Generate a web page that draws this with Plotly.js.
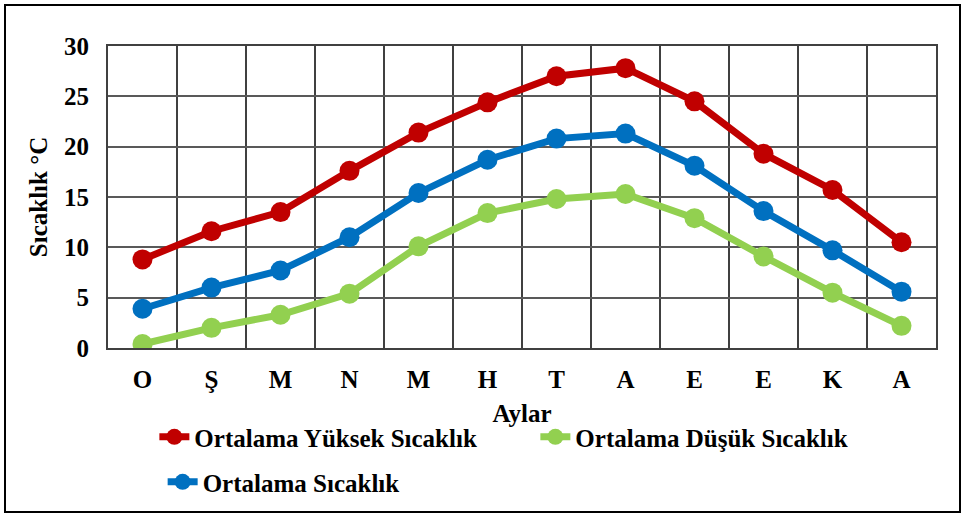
<!DOCTYPE html>
<html><head><meta charset="utf-8">
<script src="https://cdn.plot.ly/plotly-3.0.1.min.js"></script>
<style>
html,body{margin:0;padding:0;background:#fff;}
#chart{width:964px;height:515px;}
#frame{position:absolute;left:4px;top:4px;width:953px;height:505px;border:2px solid #000;pointer-events:none;}
</style></head>
<body>
<div id="chart"></div>
<div id="frame"></div>
<script>
const months = ["O","Ş","M","N","M","H","T","A","E","E","K","A"];
const xIdx = [0,1,2,3,4,5,6,7,8,9,10,11];
const highTemps = [8.8,11.6,13.5,17.6,21.4,24.4,27.0,27.8,24.5,19.3,15.7,10.5];
const lowTemps = [0.4,2.0,3.3,5.4,10.1,13.4,14.8,15.3,12.9,9.1,5.5,2.2];
const avgTemps = [3.9,6.0,7.7,11.0,15.4,18.7,20.8,21.3,18.1,13.6,9.7,5.6];
const seriesNames = ["Ortalama Yüksek Sıcaklık","Ortalama Düşük Sıcaklık","Ortalama Sıcaklık"];
const yTicks = [0,5,10,15,20,25,30];

const font = "Liberation Serif, Times New Roman, serif";
function tr(name, y, color, leg){
  return {x:xIdx, y:y, name:name, type:"scatter", mode:"lines+markers", legend:leg,
    line:{color:color,width:7}, marker:{color:color,size:20}};
}
const data = [
  tr(seriesNames[0], highTemps, "#C00000", "legend"),
  tr(seriesNames[1], lowTemps, "#92D050", "legend"),
  tr(seriesNames[2], avgTemps, "#0070C0", "legend2")
];
const legFont = {family:font, size:25, weight:"bold"};
const layout = {
  width:964, height:515,
  margin:{l:108, r:28, t:46, b:167, autoexpand:false},
  paper_bgcolor:"#fff", plot_bgcolor:"#fff",
  font:{family:font, color:"#000", size:25},
  showlegend:true,
  legend:{orientation:"h", x:0.056, xanchor:"left", y:-0.295, yanchor:"middle",
    font:legFont, entrywidth:336, entrywidthmode:"pixels",
    traceorder:"normal", itemsizing:"trace"},
  legend2:{orientation:"h", x:0.066, xanchor:"left", y:-0.444, yanchor:"middle",
    font:legFont, itemsizing:"trace"},
  xaxis:{range:[-0.5,11.5], tickvals:xIdx, ticktext:months, showgrid:false,
    zeroline:false, showline:true, mirror:true, linecolor:"#404040", linewidth:2,
    ticks:"", ticklabelstandoff:8, tickfont:{family:font,size:25,weight:"bold"},
    title:{text:"Aylar", font:{family:font,size:25,weight:"bold"}, standoff:12},
    minor:{tickvals:[0.5,1.5,2.5,3.5,4.5,5.5,6.5,7.5,8.5,9.5,10.5], showgrid:true, gridcolor:"#404040", gridwidth:2}},
  yaxis:{range:[0,30], tickvals:yTicks, showgrid:true, gridcolor:"#595959", gridwidth:2,
    zeroline:false, showline:true, mirror:true, linecolor:"#404040", linewidth:2,
    ticks:"", ticklabelstandoff:12, tickfont:{family:font,size:25,weight:"bold"},
    title:{text:"Sıcaklık °C", font:{family:font,size:25,weight:"bold"}, standoff:9}}
};
Plotly.newPlot("chart", data, layout, {displayModeBar:false, staticPlot:true});
</script>
</body></html>
